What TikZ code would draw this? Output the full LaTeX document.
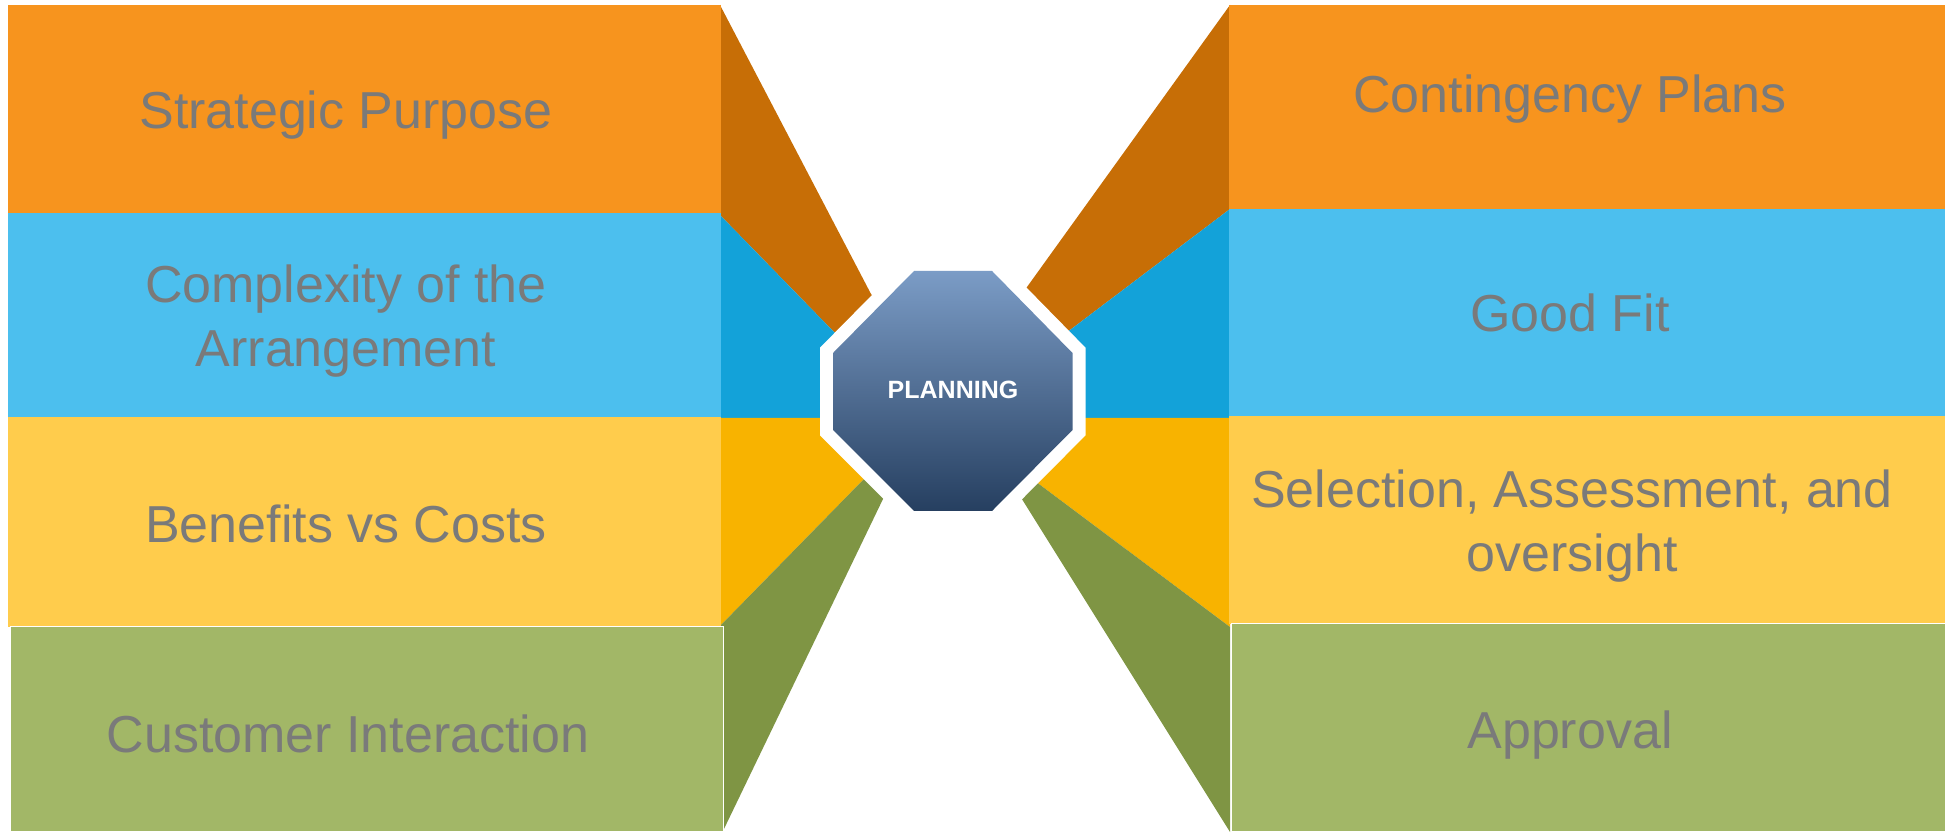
\documentclass[tikz,border=0pt]{standalone}
\usepackage{fontspec}
\setmainfont{Liberation Sans}
\definecolor{orgL}{HTML}{F7941E}
\definecolor{orgD}{HTML}{C76E06}
\definecolor{bluL}{HTML}{4CBFEE}
\definecolor{bluD}{HTML}{13A2D9}
\definecolor{yelL}{HTML}{FFCC4C}
\definecolor{yelD}{HTML}{F8B300}
\definecolor{grnL}{HTML}{A2B767}
\definecolor{grnD}{HTML}{7F9544}
\definecolor{txtgray}{HTML}{7A7A7A}
\definecolor{octT}{HTML}{7B9CC6}
\definecolor{octB}{HTML}{263F60}
\begin{document}
\begin{tikzpicture}[x=0.5pt,y=-0.5pt,
	lbl/.style={text=txtgray,font=\fontsize{26}{32}\selectfont,align=center,anchor=base}]
	\useasboundingbox (0,0) rectangle (1953,833);
	\coordinate (c) at (953,391); % centre of the octagon
	% wedges on the left
	\fill[orgD] (720,5)--(871,294)--(c)--(834,332)--(720,215)--cycle;
	\fill[bluD] (720,215)--(834,332)--(c)--(820,418)--(720,418)--cycle;
	\fill[yelD] (720,418)--(820,418)--(c)--(862,481)--(720,626)--cycle;
	\fill[grnD] (720,626)--(862,481)--(c)--(883,499)--(723,831)--cycle;
	% wedges on the right
	\fill[orgD] (1230,5)--(1027,287)--(c)--(1070,330)--(1230,209)--cycle;
	\fill[bluD] (1230,209)--(1070,330)--(c)--(1086,418)--(1230,418)--cycle;
	\fill[yelD] (1230,418)--(1086,418)--(c)--(1037.5,483)--(1230,627)--cycle;
	\fill[grnD] (1230,627)--(1037.5,483)--(c)--(1022.5,500)--(1230,832)--cycle;
	% left column
	\fill[orgL] (8,5) rectangle (721,214);
	\fill[bluL] (8,213) rectangle (721,418);
	\fill[yelL] (8,417) rectangle (721,627);
	\filldraw[grnL,draw=white,line width=0.5pt] (10,626) rectangle (723,831);
	% right column
	\fill[orgL] (1229,5) rectangle (1945,210);
	\fill[bluL] (1229,209) rectangle (1945,417);
	\fill[yelL] (1229,416) rectangle (1945,624);
	\filldraw[grnL,draw=white,line width=0.5pt] (1231,623) rectangle (1945,831);
	% labels (base = baseline of the last line)
	\node[lbl] (sp) at (346,129) {Strategic Purpose};
	\node[lbl] (cx) at (346,367) {Complexity of the\\Arrangement};
	\node[lbl] (bc) at (346,543) {Benefits vs Costs};
	\node[lbl] (ci) at (348,752) {Customer Interaction};
	\node[lbl] (cp) at (1570,113) {Contingency Plans};
	\node[lbl] (gf) at (1570,332) {Good Fit};
	\node[lbl] (sa) at (1572,571) {Selection, Assessment, and\\oversight};
	\node[lbl] (ap) at (1570,748) {Approval};
	% octagon with white rim
	\path[preaction={draw=white,line width=13pt,line join=miter},top color=octT,bottom color=octB]
		(914,271)--(992,271)--(1072.5,353)--(1072.5,430)--(992,511)--(914,511)--(833,430)--(833,353)--cycle;
	\node[text=white,font=\bfseries\fontsize{12.5}{15}\selectfont] (plan) at (953,390) {PLANNING};
\end{tikzpicture}
\end{document}
